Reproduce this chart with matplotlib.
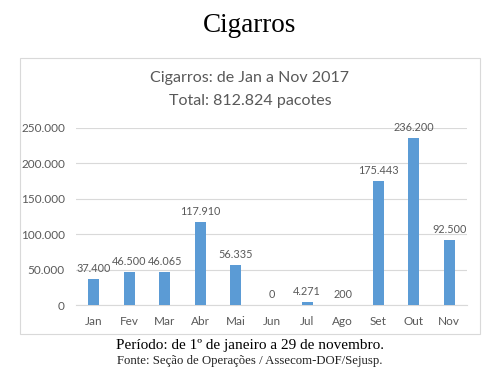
import matplotlib
matplotlib.use("Agg")
import matplotlib.pyplot as plt
from matplotlib.patches import Rectangle

meses = ["Jan", "Fev", "Mar", "Abr", "Mai", "Jun", "Jul", "Ago", "Set", "Out", "Nov"]
pacotes = [37400, 46500, 46065, 117910, 56335, 0, 4271, 200, 175443, 236200, 92500]
rotulos = ["37.400", "46.500", "46.065", "117.910", "56.335", "0", "4.271", "200",
           "175.443", "236.200", "92.500"]
yticks = [0, 50000, 100000, 150000, 200000, 250000]
ytick_labels = ["0", "50.000", "100.000", "150.000", "200.000", "250.000"]

cinza = "#595959"
azul = "#5B9BD5"

fig = plt.figure(figsize=(5, 3.86), dpi=100)
fig.patch.set_facecolor("white")

# moldura do grafico
moldura = Rectangle((20 / 500, 1 - 334 / 386), 460 / 500, 276 / 386,
                    transform=fig.transFigure, facecolor="none",
                    edgecolor="#D9D9D9", linewidth=0.8, zorder=-1)
fig.patches.append(moldura)

fig.text(0.5, 1 - 25 / 386, "Cigarros", ha="center", va="center",
         family="Liberation Serif", fontsize=19.5, color="black")
fig.text(0.5, 1 - 78 / 386, "Cigarros: de Jan a Nov 2017", ha="center", va="center",
         family="Lato", fontsize=11.5, color=cinza)
fig.text(0.5, 1 - 101 / 386, "Total: 812.824 pacotes", ha="center", va="center",
         family="Lato", fontsize=11.5, color=cinza)

ax = fig.add_axes([76 / 500, 1 - 305 / 386, 391 / 500, 177 / 386])
ax.set_facecolor("none")
x = range(len(meses))
ax.bar(x, pacotes, width=0.31, color=azul, zorder=3)
for xi, v, t in zip(x, pacotes, rotulos):
    ax.text(xi, v + 7000, t, ha="center", va="bottom", family="Lato",
            fontsize=7.8, color=cinza)

ax.set_xlim(-0.5, len(meses) - 0.5)
ax.set_ylim(0, 250000)
ax.set_yticks(yticks)
ax.set_yticklabels(ytick_labels, family="Lato", fontsize=8.5, color=cinza)
ax.set_xticks(list(x))
ax.set_xticklabels(meses, family="Lato", fontsize=8.5, color=cinza)
ax.tick_params(length=0, pad=8)
ax.grid(axis="y", color="#D9D9D9", linewidth=0.8, zorder=0)
for s in ["top", "right", "left"]:
    ax.spines[s].set_visible(False)
ax.spines["bottom"].set_color("#D9D9D9")
ax.spines["bottom"].set_linewidth(0.8)

fig.text(0.5, 1 - 345 / 386, "Período: de 1º de janeiro a 29 de novembro.", ha="center",
         va="center", family="Liberation Serif", fontsize=11, color="black")
fig.text(0.5, 1 - 361 / 386, "Fonte: Seção de Operações / Assecom-DOF/Sejusp.", ha="center",
         va="center", family="Liberation Serif", fontsize=9.2, color="#222222")

fig.savefig("out.png", dpi=100)
